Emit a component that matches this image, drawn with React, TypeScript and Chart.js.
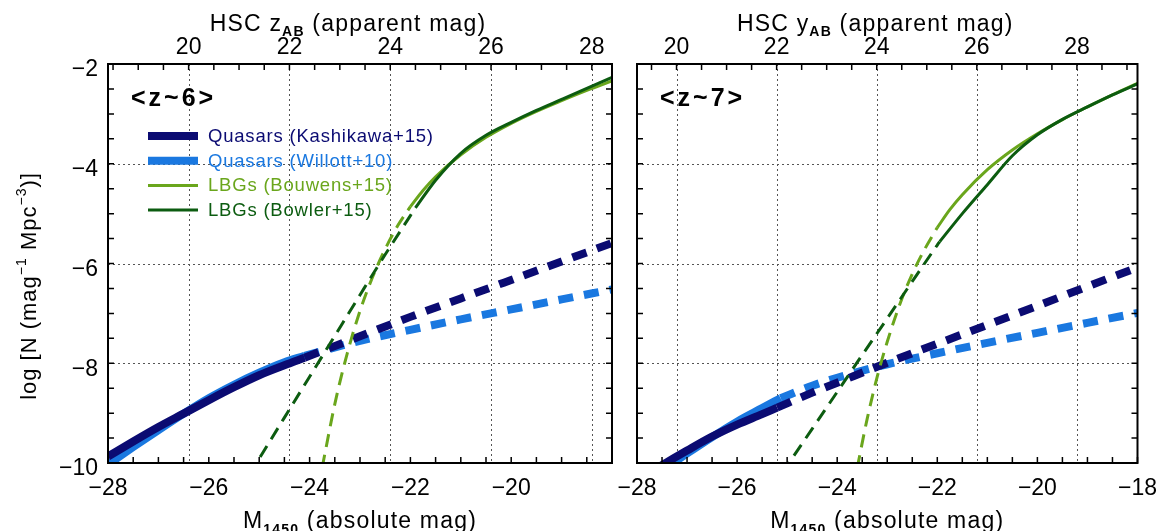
import React, { useEffect, useRef } from "react";
import { Chart, registerables } from "chart.js";

Chart.register(...registerables);

const W = 1169;
const H = 531;
const FONT = "'Liberation Sans', 'DejaVu Sans', Arial, sans-serif";

// ---------- axes ----------
const X_MIN = -28;
const X_MAX = -18;
const Y_MIN = -10;
const Y_MAX = -2;
const xTicksLeft = [-28, -26, -24, -22, -20];
const xTicksRight = [-28, -26, -24, -22, -20, -18];
const yTickValues = [-10, -8, -6, -4, -2];
const yGridValues = [-8, -6, -4];
const appTickValues = [20, 22, 24, 26, 28];
const appOffsetZ6 = 46.4; // HSC z_AB = M1450 + offset
const appOffsetZ7 = 47.21; // HSC y_AB = M1450 + offset

// ---------- z~6 ----------
const z6KashSolidM = [-28, -27.5, -27, -26.5, -26, -25.5, -25, -24.5, -24.1];
const z6KashSolidN = [-9.87, -9.57, -9.28, -9.01, -8.74, -8.48, -8.24, -8.04, -7.89];
const z6KashDashM = [-24.1, -23, -22, -21, -20, -19, -18];
const z6KashDashN = [-7.89, -7.46, -7.07, -6.7, -6.33, -5.96, -5.59];

const z6WillSolidM = [-28, -27.5, -27, -26.5, -26, -25.5, -25, -24.5, -24.1];
const z6WillSolidN = [-10.03, -9.68, -9.34, -9.01, -8.7, -8.43, -8.19, -7.98, -7.85];
const z6WillDashM = [-24.1, -23, -22, -21, -20, -19, -18];
const z6WillDashN = [-7.85, -7.55, -7.33, -7.12, -6.92, -6.72, -6.52];

const z6BouwDashM = [-23.75, -23.5, -23.25, -23, -22.75, -22.5, -22.25, -22];
const z6BouwDashN = [-10.09, -8.82, -7.79, -6.95, -6.27, -5.71, -5.24, -4.86];
const z6BouwSolidM = [-22, -21.75, -21.5, -21, -20.5, -20, -19.5, -19, -18.5, -18];
const z6BouwSolidN = [-4.86, -4.535, -4.26, -3.82, -3.47, -3.19, -2.95, -2.735, -2.53, -2.34];

const z6BowlDashM = [-25.2, -24.5, -24, -23.5, -23, -22.5, -22, -21.9];
const z6BowlDashN = [-10.24, -9.09, -8.27, -7.45, -6.63, -5.82, -5.04, -4.885];
const z6BowlSolidM = [-21.9, -21.5, -21, -20.5, -20, -19.5, -19, -18.5, -18];
const z6BowlSolidN = [-4.885, -4.33, -3.79, -3.43, -3.17, -2.93, -2.71, -2.49, -2.27];

// ---------- z~7 ----------
const z7KashSolidM = [-27.6, -27, -26.5, -26, -25.5, -25.2];
const z7KashSolidN = [-10.1, -9.75, -9.47, -9.23, -9.02, -8.89];
const z7KashDashM = [-25.2, -24.5, -24, -23, -22, -21, -20, -19, -18];
const z7KashDashN = [-8.89, -8.59, -8.39, -7.99, -7.61, -7.23, -6.85, -6.46, -6.08];

const z7WillSolidM = [-27.5, -27, -26.5, -26, -25.5, -25.13];
const z7WillSolidN = [-10.15, -9.81, -9.48, -9.17, -8.9, -8.7];
const z7WillDashM = [-25.13, -24.5, -24, -23, -22, -21, -20, -19, -18];
const z7WillDashN = [-8.7, -8.45, -8.29, -8.02, -7.8, -7.59, -7.39, -7.19, -6.99];

const z7BouwDashM = [-23.6, -23.4, -23.2, -23, -22.75, -22.5, -22.25, -22];
const z7BouwDashN = [-10.1, -9.11, -8.27, -7.57, -6.82, -6.21, -5.71, -5.28];
const z7BouwSolidM = [-22, -21.75, -21.5, -21, -20.5, -20, -19.5, -19, -18.5, -18];
const z7BouwSolidN = [-5.28, -4.92, -4.62, -4.12, -3.725, -3.4, -3.115, -2.86, -2.617, -2.387];

const z7BowlDashM = [-25.1, -24.5, -24, -23.5, -23, -22.5, -22, -21.95];
const z7BowlDashN = [-10.2, -9.315, -8.575, -7.835, -7.1, -6.36, -5.63, -5.56];
const z7BowlSolidM = [-21.95, -21.5, -21, -20.5, -20, -19.5, -19, -18.5, -18];
const z7BowlSolidN = [-5.56, -5.0, -4.42, -3.84, -3.42, -3.11, -2.86, -2.62, -2.4];

// ---------- legend ----------
const legendLabels = [
  "Quasars (Kashikawa+15)",
  "Quasars (Willott+10)",
  "LBGs (Bouwens+15)",
  "LBGs (Bowler+15)",
];

const NAVY = "#0b0b72";
const BLUE = "#1a78e0";
const LGREEN = "#6aa61c";
const DGREEN = "#0c5c10";
const legendColors = [NAVY, BLUE, LGREEN, DGREEN];
const legendWidths = [8, 8, 3, 3];

const QSO_W = 8;
const LBG_W = 3;
const QSO_DASH = [15, 11];
const LBG_DASH = [13, 8];

type Seg = { t: string; size: number; dy?: number; bold?: boolean };

function fmt(v: number) {
  return v < 0 ? "\u2212" + Math.abs(v) : String(v);
}

function drawRich(
  ctx: CanvasRenderingContext2D,
  segs: Seg[],
  x: number,
  y: number,
  align: "left" | "center",
  spacing: number,
  color: string
) {
  ctx.save();
  ctx.textAlign = "left";
  ctx.textBaseline = "alphabetic";
  ctx.fillStyle = color;
  (ctx as any).letterSpacing = `${spacing}px`;
  const ws = segs.map((s) => {
    ctx.font = `${s.bold ? "bold " : ""}${s.size}px ${FONT}`;
    return ctx.measureText(s.t).width;
  });
  const total = ws.reduce((a, b) => a + b, 0);
  let cx = align === "center" ? x - total / 2 : x;
  segs.forEach((s, i) => {
    ctx.font = `${s.bold ? "bold " : ""}${s.size}px ${FONT}`;
    ctx.fillText(s.t, cx, y + (s.dy ?? 0));
    cx += ws[i];
  });
  ctx.restore();
}

type PanelCfg = {
  offset: number;
  tag: string;
  band: string;
  showLegend: boolean;
  showYTitle: boolean;
};

function framePlugin(cfg: PanelCfg) {
  return {
    id: "frame",
    beforeDatasetsDraw(chart: any) {
      const { ctx, chartArea: a } = chart;
      const xs = chart.scales.x;
      const ys = chart.scales.y;
      ctx.save();
      ctx.strokeStyle = "#555";
      ctx.lineWidth = 1;
      ctx.setLineDash([2, 3]);
      ctx.beginPath();
      for (const v of yGridValues) {
        const p = Math.round(ys.getPixelForValue(v)) + 0.5;
        ctx.moveTo(a.left, p);
        ctx.lineTo(a.right, p);
      }
      for (const m of appTickValues) {
        const p = Math.round(xs.getPixelForValue(m - cfg.offset)) + 0.5;
        if (p > a.left + 1 && p < a.right - 1) {
          ctx.moveTo(p, a.top);
          ctx.lineTo(p, a.bottom);
        }
      }
      ctx.stroke();
      ctx.restore();
    },
    afterDatasetsDraw(chart: any) {
      const { ctx, chartArea: a } = chart;
      const xs = chart.scales.x;
      const ys = chart.scales.y;
      ctx.save();
      ctx.setLineDash([]);
      ctx.strokeStyle = "#000";
      // inward ticks every 0.5
      ctx.lineWidth = 1.5;
      const TL = 6;
      ctx.beginPath();
      for (let m = X_MIN; m <= X_MAX + 1e-9; m += 0.5) {
        const p = xs.getPixelForValue(m);
        ctx.moveTo(p, a.bottom);
        ctx.lineTo(p, a.bottom - TL);
      }
      const app0 = Math.ceil((X_MIN + cfg.offset) * 2) / 2;
      for (let m = app0; m <= X_MAX + cfg.offset + 1e-9; m += 0.5) {
        const p = xs.getPixelForValue(m - cfg.offset);
        ctx.moveTo(p, a.top);
        ctx.lineTo(p, a.top + TL);
      }
      for (let v = Y_MIN; v <= Y_MAX + 1e-9; v += 0.5) {
        const p = ys.getPixelForValue(v);
        ctx.moveTo(a.left, p);
        ctx.lineTo(a.left + TL, p);
        ctx.moveTo(a.right, p);
        ctx.lineTo(a.right - TL, p);
      }
      ctx.stroke();
      // frame
      ctx.lineWidth = 2;
      ctx.strokeRect(a.left, a.top, a.right - a.left, a.bottom - a.top);

      // panel tag
      ctx.fillStyle = "#000";
      ctx.textBaseline = "middle";
      ctx.textAlign = "left";
      ctx.font = `bold 25px ${FONT}`;
      (ctx as any).letterSpacing = "3px";
      ctx.fillText(cfg.tag, a.left + 23, a.top + 35);
      (ctx as any).letterSpacing = "0px";

      // legend
      if (cfg.showLegend) {
        legendLabels.forEach((lab, i) => {
          const y = a.top + 72 + i * 24.7;
          ctx.strokeStyle = legendColors[i];
          ctx.lineWidth = legendWidths[i];
          ctx.beginPath();
          ctx.moveTo(a.left + 40, y);
          ctx.lineTo(a.left + 90, y);
          ctx.stroke();
          ctx.fillStyle = legendColors[i];
          ctx.font = `18.5px ${FONT}`;
          (ctx as any).letterSpacing = "0.8px";
          ctx.textBaseline = "middle";
          ctx.fillText(lab, a.left + 100, y + 1);
          (ctx as any).letterSpacing = "0px";
        });
      }
      ctx.restore();
    },
    afterDraw(chart: any) {
      const { ctx, chartArea: a } = chart;
      const cx = (a.left + a.right) / 2;
      drawRich(
        ctx,
        [
          { t: "HSC ", size: 23 },
          { t: cfg.band, size: 23 },
          { t: "AB", size: 14, dy: 5, bold: true },
          { t: " (apparent mag)", size: 23 },
        ],
        cx - 12,
        31,
        "center",
        1.2,
        "#000"
      );
      drawRich(
        ctx,
        [
          { t: "M", size: 23 },
          { t: "1450", size: 14, dy: 6, bold: true },
          { t: " (absolute mag)", size: 23 },
        ],
        cx,
        528,
        "center",
        1.2,
        "#000"
      );
      if (cfg.showYTitle) {
        ctx.save();
        ctx.translate(36, 286);
        ctx.rotate(-Math.PI / 2);
        drawRich(
          ctx,
          [
            { t: "log [N (mag", size: 22 },
            { t: "\u22121", size: 14, dy: -10 },
            { t: " Mpc", size: 22 },
            { t: "\u22123", size: 14, dy: -10 },
            { t: ")]", size: 22 },
          ],
          0,
          0,
          "center",
          1,
          "#000"
        );
        ctx.restore();
      }
    },
  };
}

function series(
  xs: number[],
  ys: number[],
  color: string,
  width: number,
  dash: number[],
  order: number,
  label: string
) {
  return {
    label,
    data: xs.map((x, i) => ({ x, y: ys[i] })),
    xAxisID: "x",
    yAxisID: "y",
    borderColor: color,
    backgroundColor: color,
    borderWidth: width,
    borderDash: dash,
    borderCapStyle: "butt",
    pointRadius: 0,
    pointHoverRadius: 0,
    fill: false,
    cubicInterpolationMode: "monotone",
    order,
    clip: 0,
  };
}

function tickFont() {
  return { family: FONT, size: 23 };
}

function buildChart(
  canvas: HTMLCanvasElement,
  cfg: PanelCfg,
  datasets: any[],
  xTickVals: number[],
  padding: { left: number; right: number; top: number; bottom: number },
  showY: boolean
) {
  return new Chart(canvas, {
    type: "line",
    data: { datasets },
    options: {
      animation: false,
      responsive: false,
      maintainAspectRatio: false,
      events: [],
      layout: { padding },
      plugins: {
        legend: { display: false },
        tooltip: { enabled: false },
        title: { display: false },
      },
      scales: {
        x: {
          type: "linear",
          position: "bottom",
          min: X_MIN,
          max: X_MAX,
          afterBuildTicks: (s: any) => {
            s.ticks = xTickVals.map((v) => ({ value: v }));
          },
          afterFit: (s: any) => {
            s.height = 68;
          },
          grid: { display: false, drawTicks: false },
          border: { display: false },
          ticks: {
            color: "#000",
            font: tickFont(),
            padding: 12,
            maxRotation: 0,
            minRotation: 0,
            autoSkip: false,
            callback: (v: any) => fmt(Number(v)),
          },
        },
        xApp: {
          type: "linear",
          position: "top",
          min: X_MIN + cfg.offset,
          max: X_MAX + cfg.offset,
          afterBuildTicks: (s: any) => {
            s.ticks = appTickValues.map((v) => ({ value: v }));
          },
          afterFit: (s: any) => {
            s.height = 64;
          },
          grid: { display: false, drawTicks: false },
          border: { display: false },
          ticks: {
            color: "#000",
            font: tickFont(),
            padding: 3,
            maxRotation: 0,
            minRotation: 0,
            autoSkip: false,
            callback: (v: any) => String(v),
          },
        },
        y: {
          type: "linear",
          position: "left",
          display: showY,
          min: Y_MIN,
          max: Y_MAX,
          afterBuildTicks: (s: any) => {
            s.ticks = yTickValues.map((v) => ({ value: v }));
          },
          afterFit: (s: any) => {
            if (showY) s.width = 108;
          },
          grid: { display: false, drawTicks: false },
          border: { display: false },
          ticks: {
            color: "#000",
            font: tickFont(),
            padding: 10,
            labelOffset: 6,
            autoSkip: false,
            callback: (v: any) => fmt(Number(v)),
          },
        },
      },
    } as any,
    plugins: [framePlugin(cfg) as any],
  });
}

export default function App() {
  const leftRef = useRef<HTMLCanvasElement>(null);
  const rightRef = useRef<HTMLCanvasElement>(null);

  useEffect(() => {
    const left = buildChart(
      leftRef.current!,
      { offset: appOffsetZ6, tag: "<z~6>", band: "z", showLegend: true, showYTitle: true },
      [
        series(z6BowlSolidM, z6BowlSolidN, DGREEN, LBG_W, [], 0, "Bowler+15"),
        series(z6BowlDashM, z6BowlDashN, DGREEN, LBG_W, LBG_DASH, 0, "Bowler+15 extrap."),
        series(z6BouwSolidM, z6BouwSolidN, LGREEN, LBG_W, [], 1, "Bouwens+15"),
        series(z6BouwDashM, z6BouwDashN, LGREEN, LBG_W, LBG_DASH, 1, "Bouwens+15 extrap."),
        series(z6KashSolidM, z6KashSolidN, NAVY, QSO_W, [], 2, "Kashikawa+15"),
        series(z6KashDashM, z6KashDashN, NAVY, QSO_W, QSO_DASH, 2, "Kashikawa+15 extrap."),
        series(z6WillSolidM, z6WillSolidN, BLUE, QSO_W, [], 3, "Willott+10"),
        series(z6WillDashM, z6WillDashN, BLUE, QSO_W, QSO_DASH, 3, "Willott+10 extrap."),
      ],
      xTicksLeft,
      { left: 0, right: W - 612, top: 0, bottom: 0 },
      true
    );
    const right = buildChart(
      rightRef.current!,
      { offset: appOffsetZ7, tag: "<z~7>", band: "y", showLegend: false, showYTitle: false },
      [
        series(z7BowlSolidM, z7BowlSolidN, DGREEN, LBG_W, [], 0, "Bowler+15"),
        series(z7BowlDashM, z7BowlDashN, DGREEN, LBG_W, LBG_DASH, 0, "Bowler+15 extrap."),
        series(z7BouwSolidM, z7BouwSolidN, LGREEN, LBG_W, [], 1, "Bouwens+15"),
        series(z7BouwDashM, z7BouwDashN, LGREEN, LBG_W, LBG_DASH, 1, "Bouwens+15 extrap."),
        series(z7KashSolidM, z7KashSolidN, NAVY, QSO_W, [], 2, "Kashikawa+15"),
        series(z7KashDashM, z7KashDashN, NAVY, QSO_W, QSO_DASH, 2, "Kashikawa+15 extrap."),
        series(z7WillSolidM, z7WillSolidN, BLUE, QSO_W, [], 3, "Willott+10"),
        series(z7WillDashM, z7WillDashN, BLUE, QSO_W, QSO_DASH, 3, "Willott+10 extrap."),
      ],
      xTicksRight,
      { left: 637, right: W - 1141, top: 0, bottom: 0 },
      false
    );
    return () => {
      left.destroy();
      right.destroy();
    };
  }, []);

  const canvasStyle: React.CSSProperties = {
    position: "absolute",
    left: 0,
    top: 0,
    width: W,
    height: H,
  };

  return (
    <div
      style={{
        position: "absolute",
        left: 0,
        top: 0,
        width: W,
        height: H,
        background: "#fff",
        overflow: "hidden",
      }}
    >
      <canvas ref={leftRef} width={W} height={H} style={canvasStyle} />
      <canvas ref={rightRef} width={W} height={H} style={canvasStyle} />
    </div>
  );
}
